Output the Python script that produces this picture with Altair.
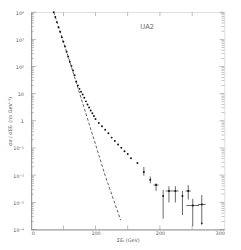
import altair as alt
import pandas as pd

# --- data ---
et_pts = [35, 37.5, 40, 42.5, 45, 47.5, 50, 52.5, 55, 57.5, 60, 62.5, 65, 67.5, 70,
          72.5, 75, 77.5, 80, 82.5, 85, 87.5, 90, 92.5, 95, 97.5, 100, 105, 110, 115,
          120, 125, 130, 135, 140, 145, 150, 155, 165]
xs_pts = [1.0e4, 6.6e3, 4.3e3, 2.8e3, 1.9e3, 1.2e3, 8.1e2, 5.4e2, 3.5e2, 2.3e2, 1.5e2,
          1.05e2, 71, 48, 28, 20, 15, 11.7, 9.3, 7.1, 5.2, 4.0, 3.1, 2.4, 1.9, 1.5, 1.17,
          0.83, 0.63, 0.47, 0.35, 0.24, 0.18, 0.135, 0.102, 0.076, 0.060, 0.042, 0.028]

et_err = [175, 185, 194, 205, 214, 224, 235, 244, 251, 265]
xs_err = [1.3e-2, 6.8e-3, 4.3e-3, 1.7e-3, 2.6e-3, 2.6e-3, 1.7e-3, 2.6e-3, 7.6e-4, 8.3e-4]
xs_hi = [2.0e-2, 8.9e-3, 5.0e-3, 2.8e-3, 3.9e-3, 3.9e-3, 2.6e-3, 4.3e-3, 1.35e-3, 1.86e-3]
xs_lo = [9.5e-3, 5.0e-3, 2.6e-3, 2.5e-4, 9.8e-4, 9.8e-4, 3.4e-4, 1.26e-3, 1.3e-4, 1.6e-4]
et_lo = [175, 185, 190, 205, 209, 219, 235, 240, 241, 259]
et_hi = [175, 185, 198, 205, 219, 229, 235, 248, 261, 271]

dash_et = [35, 60, 84, 100, 115, 139]
dash_xs = [1.0e4, 1.5e2, 2.2, 0.135, 9.5e-3, 2.2e-4]

major_y = [1e-4, 1e-3, 1e-2, 1e-1, 1, 10, 1e2, 1e3, 1e4]
x_ticks = [0, 50, 100, 150, 200, 250, 300]

minor_y = [m * d for d in [1e-4, 1e-3, 1e-2, 1e-1, 1, 10, 1e2, 1e3] for m in range(2, 10)]

pts = pd.DataFrame({"et": et_pts, "xs": xs_pts})
errs = pd.DataFrame({"et": et_err, "xs": xs_err, "hi": xs_hi, "lo": xs_lo,
                     "elo": et_lo, "ehi": et_hi})
dash = pd.DataFrame({"et": dash_et, "xs": dash_xs})
arrow = errs.tail(1)
majors = pd.DataFrame({"v": major_y})
minors = pd.DataFrame({"v": minor_y})
xt = pd.DataFrame({"v": x_ticks[1:-1]})

W, H = 200, 225
INK = "#333333"
AX = "#777777"
TXT = "#555555"
FONT = "DejaVu Sans"

xscale = alt.Scale(domain=[0, 300], nice=False)
yscale = alt.Scale(type="log", domain=[1e-4, 1e4], nice=False)

label_expr = ("datum.value == 1 ? '1' : datum.value == 10 ? '10' : '10' + "
              "['⁻⁴','⁻³','⁻²','⁻¹','','','²','³','⁴'][round(log(datum.value)/LN10)+4]")

xaxis = alt.Axis(values=x_ticks, tickSize=0, labelFontSize=5, labelPadding=1,
                 labelOverlap=False, labelColor=TXT, labelFont=FONT, domainColor=AX,
                 domainWidth=0.8, grid=False, title="ΣEₜ  (GeV)", titleFontSize=5,
                 titleFont=FONT, titleFontWeight="normal", titleColor=TXT, titlePadding=2)
yaxis = alt.Axis(values=major_y, labelExpr=label_expr, tickSize=0, labelFontSize=5,
                 labelOverlap=False, labelPadding=8, labelColor=TXT, labelFont=FONT,
                 domainColor=AX, domainWidth=0.8, grid=False,
                 title="dσ / dΣEₜ  (nb GeV⁻¹)", titleFontSize=5, titleFont=FONT,
                 titleFontWeight="normal", titleColor=TXT, titleX=-22,
                 titleBaseline="middle")

base_x = alt.X("et:Q", scale=xscale, axis=xaxis)
base_y = alt.Y("xs:Q", scale=yscale, axis=yaxis)

dashed = alt.Chart(dash).mark_line(strokeDash=[3, 2], color=INK, strokeWidth=0.8).encode(
    x=base_x, y=base_y)

dots = alt.Chart(pts).mark_point(filled=True, size=4, color="#111111", opacity=1).encode(
    x=alt.X("et:Q", scale=xscale), y=alt.Y("xs:Q", scale=yscale))

edots = alt.Chart(errs).mark_point(filled=True, size=4, color="#111111", opacity=1).encode(
    x=alt.X("et:Q", scale=xscale), y=alt.Y("xs:Q", scale=yscale))

vbars = alt.Chart(errs).mark_rule(color="#222222", strokeWidth=0.7).encode(
    x=alt.X("et:Q", scale=xscale), y=alt.Y("lo:Q", scale=yscale), y2="hi:Q")

hbars = alt.Chart(errs).mark_rule(color="#222222", strokeWidth=0.7).encode(
    x=alt.X("elo:Q", scale=xscale), x2="ehi:Q", y=alt.Y("xs:Q", scale=yscale))

arr = alt.Chart(arrow).mark_point(shape="triangle-down", filled=True, size=6,
                                  color="#222222", opacity=1).encode(
    x=alt.X("et:Q", scale=xscale), y=alt.Y("lo:Q", scale=yscale))

left_major = alt.Chart(majors).mark_tick(color=AX, size=5, thickness=0.7,
                                         orient="horizontal").encode(
    y=alt.Y("v:Q", scale=yscale), x=alt.value(2.5))
left_minor = alt.Chart(minors).mark_tick(color=AX, size=3, thickness=0.6,
                                         orient="horizontal").encode(
    y=alt.Y("v:Q", scale=yscale), x=alt.value(1.5))
right_major = alt.Chart(majors).mark_tick(color=AX, size=5, thickness=0.7,
                                          orient="horizontal").encode(
    y=alt.Y("v:Q", scale=yscale), x=alt.value(W - 2.5))
right_minor = alt.Chart(minors).mark_tick(color=AX, size=3, thickness=0.6,
                                          orient="horizontal").encode(
    y=alt.Y("v:Q", scale=yscale), x=alt.value(W - 1.5))
top_t = alt.Chart(xt).mark_tick(color=AX, size=4, thickness=0.7, orient="vertical").encode(
    x=alt.X("v:Q", scale=xscale), y=alt.value(2))
bot_t = alt.Chart(xt).mark_tick(color=AX, size=4, thickness=0.7, orient="vertical").encode(
    x=alt.X("v:Q", scale=xscale), y=alt.value(H - 2))

label = alt.Chart(pd.DataFrame({"t": ["UA2"]})).mark_text(
    fontSize=7, font=FONT, color="#666666", align="left", baseline="middle").encode(
    text="t:N", x=alt.value(113), y=alt.value(15))

chart = alt.layer(
    dashed, dots, vbars, hbars, edots, arr,
    left_major, left_minor, right_major, right_minor, top_t, bot_t, label
).properties(
    width=W, height=H,
    autosize=alt.AutoSizeParams(type="none"),
    padding={"left": 24, "top": 0, "right": 9, "bottom": 17},
).configure_view(stroke=AX, strokeWidth=0.8).configure(background="white")

chart.save("out.html", embed_options={"renderer": "svg", "actions": False})
